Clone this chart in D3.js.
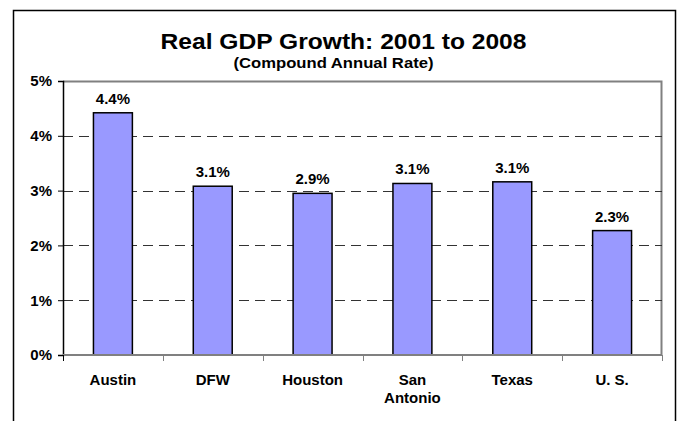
<!DOCTYPE html>
<html lang="en">
<head>
  <meta charset="UTF-8">
  <title>Real GDP Growth: 2001 to 2008</title>
  <style type="text/css">
    body {
      margin: 0;
      background: white;
      font-family: "Liberation Sans", Arial, sans-serif;
    }
    .axis text {
      font-size: 15px;
      font-weight: bold;
      fill: black;
    }
  </style>
  <script src="https://cdn.jsdelivr.net/npm/d3@7"></script>
</head>
<body>
  <div class="main"></div>
  <script>
    // data
    var regions = ["Austin", "DFW", "Houston", "San Antonio", "Texas", "U. S."];
    var growth = [4.42, 3.08, 2.95, 3.13, 3.16, 2.27];
    var valueLabels = ["4.4%", "3.1%", "2.9%", "3.1%", "3.1%", "2.3%"];
    var yTicks = [0, 1, 2, 3, 4, 5];

    var W = 677, H = 421;
    var margin = {top: 81, right: 15, bottom: 66, left: 63},
        width = 662 - margin.left,
        height = 355 - margin.top;

    var svg = d3.select(".main").append("svg")
        .attr("width", W)
        .attr("height", H);

    // outer frame (bottom runs off the picture)
    svg.append("path")
        .attr("d", "M13.5," + (H + 2) + "V10.5H675.5V" + (H + 2))
        .attr("fill", "none")
        .attr("stroke", "black")
        .attr("stroke-width", 1.5);

    // titles
    svg.append("text")
        .attr("x", 343.5).attr("y", 49)
        .attr("text-anchor", "middle")
        .attr("textLength", 366)
        .attr("lengthAdjust", "spacingAndGlyphs")
        .style("font-size", "22px")
        .style("font-weight", "bold")
        .text("Real GDP Growth: 2001 to 2008");

    svg.append("text")
        .attr("x", 333.5).attr("y", 68)
        .attr("text-anchor", "middle")
        .attr("textLength", 200)
        .attr("lengthAdjust", "spacingAndGlyphs")
        .style("font-size", "14px")
        .style("font-weight", "bold")
        .text("(Compound Annual Rate)");

    var g = svg.append("g")
        .attr("transform", "translate(" + margin.left + "," + margin.top + ")");

    var xScale = d3.scaleBand().domain(regions).range([0, width]).paddingInner(0.61).paddingOuter(0.305);
    var xBand = d3.scaleBand().domain(regions).range([0, width]);
    var yScale = d3.scaleLinear().domain([0, 5]).range([height, 0]);

    // plot border (top and right, gray)
    g.append("path")
        .attr("d", "M0,0.5H" + (width - 0.5) + "V" + height)
        .attr("fill", "none")
        .attr("stroke", "#808080")
        .attr("stroke-width", 2);

    // dashed gridlines
    g.selectAll(".grid")
        .data(yTicks.filter(function(d) { return d > 0 && d < 5; }))
      .enter().append("line")
        .attr("class", "grid")
        .attr("x1", 0)
        .attr("x2", width)
        .attr("y1", function(d) { return Math.round(yScale(d)) + 0.5; })
        .attr("y2", function(d) { return Math.round(yScale(d)) + 0.5; })
        .attr("stroke", "#333")
        .attr("stroke-width", 1)
        .attr("stroke-dasharray", "10,6");

    // bars
    g.selectAll(".bar")
        .data(growth)
      .enter().append("rect")
        .attr("class", "bar")
        .attr("x", function(d, i) { return xScale(regions[i]); })
        .attr("width", xScale.bandwidth())
        .attr("y", function(d) { return yScale(d); })
        .attr("height", function(d) { return height - yScale(d); })
        .attr("fill", "#9999ff")
        .attr("stroke", "black")
        .attr("stroke-width", 1.5);

    // value labels
    g.selectAll(".val")
        .data(growth)
      .enter().append("text")
        .attr("class", "val")
        .attr("x", function(d, i) { return xScale(regions[i]) + xScale.bandwidth() / 2; })
        .attr("y", function(d) { return yScale(d) - 9; })
        .attr("text-anchor", "middle")
        .style("font-size", "15px")
        .style("font-weight", "bold")
        .text(function(d, i) { return valueLabels[i]; });

    // y axis
    var yAxis = d3.axisLeft(yScale)
        .tickValues(yTicks)
        .tickSize(5)
        .tickPadding(6)
        .tickFormat(function(d) { return d + "%"; });
    var ya = g.append("g")
        .attr("class", "axis")
        .call(yAxis);
    ya.select(".domain").attr("stroke", "black").attr("stroke-width", 1.5);
    ya.selectAll(".tick line").attr("stroke", "black");

    // x axis: ticks at band boundaries
    var xa = g.append("g")
        .attr("class", "axis")
        .attr("transform", "translate(0," + height + ")");
    xa.append("line")
        .attr("x1", 0).attr("x2", width)
        .attr("stroke", "#808080")
        .attr("stroke-width", 2);
    xa.selectAll(".xt")
        .data(regions.concat([null]))
      .enter().append("line")
        .attr("class", "xt")
        .attr("x1", function(d, i) { return Math.round(i * xBand.bandwidth()) + 0.5; })
        .attr("x2", function(d, i) { return Math.round(i * xBand.bandwidth()) + 0.5; })
        .attr("y1", 0).attr("y2", 6)
        .attr("stroke", function(d, i) { return i === 0 ? "black" : "#808080"; });
    var xl = xa.selectAll(".xl")
        .data(regions)
      .enter().append("text")
        .attr("class", "xl")
        .attr("x", function(d) { return xBand(d) + xBand.bandwidth() / 2; })
        .attr("y", 30)
        .attr("text-anchor", "middle");
    xl.each(function(d) {
      var words = d === "U. S." ? [d] : d.split(" ");
      var t = d3.select(this);
      words.forEach(function(w, k) {
        t.append("tspan")
          .attr("x", t.attr("x"))
          .attr("dy", k === 0 ? 0 : 18)
          .text(w);
      });
    });
  </script>
</body>
</html>
